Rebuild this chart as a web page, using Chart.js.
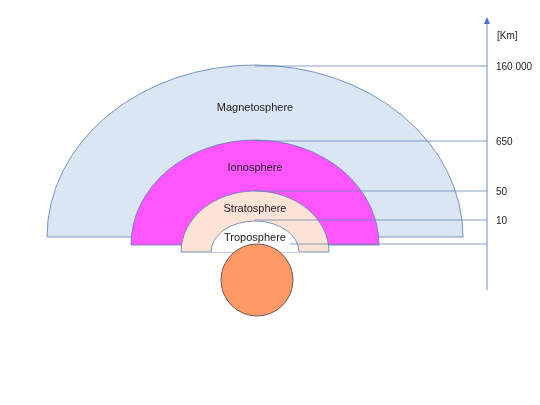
<!DOCTYPE html>
<html><head><meta charset="utf-8">
<script src="https://cdn.jsdelivr.net/npm/chart.js@4/dist/chart.umd.min.js"></script>
<style>html,body{margin:0;background:#fff}#wrap{width:540px;height:405px}</style>
</head><body><div id="wrap"><canvas id="c"></canvas></div>
<script>
// layers, outer to inner; centre x, baseline y, horizontal / vertical radii (diagram units = px)
const layerNames = ['Magnetosphere', 'Ionosphere', 'Stratosphere', 'Troposphere'];
const layerColors = ['#DAE6F4', '#FF55FF', '#FBE3D6', '#FFFFFF'];
const layerCx = [255, 255, 255, 255];
const layerBase = [237, 245, 252, 252];
const layerRx = [208, 124, 74, 44];
const layerRy = [172, 105, 61, 31];
const labelY = [108, 168, 209, 238];
const tickLabels = ['160 000', '650', '50', '10', ''];
const tickY = [66, 141, 191, 220, 244];
const tickFromX = [255, 255, 255, 255, 290];
const axisX = 487;

const shapes = {
  id: 'shapes',
  afterDatasetsDraw(chart) {
    const { ctx, scales: { x, y } } = chart;
    const X = v => x.getPixelForValue(v), Y = v => y.getPixelForValue(v);
    ctx.save();
    ctx.strokeStyle = '#5B7DB0';
    ctx.lineWidth = 0.8;
    // stratosphere annulus handled by drawing troposphere white on top
    for (let i = 0; i < layerNames.length; i++) {
      const cx = X(layerCx[i]), cy = Y(layerBase[i]);
      const rx = X(layerCx[i] + layerRx[i]) - cx, ry = Y(layerBase[i] - layerRy[i]);
      ctx.beginPath();
      ctx.ellipse(cx, cy, rx, cy - ry, 0, Math.PI, 2 * Math.PI);
      ctx.closePath();
      ctx.fillStyle = layerColors[i];
      ctx.fill();
      if (i === 3) {
        ctx.beginPath();
        ctx.ellipse(cx, cy, rx, cy - ry, 0, Math.PI, 2 * Math.PI);
      }
      ctx.stroke();
    }
    // earth
    ctx.beginPath();
    ctx.arc(X(257), Y(280), X(293) - X(257), 0, 2 * Math.PI);
    ctx.fillStyle = '#FF9966';
    ctx.fill();
    ctx.strokeStyle = '#404040';
    ctx.stroke();
    // labels
    ctx.fillStyle = '#222';
    ctx.font = '11px "Liberation Sans", Arial, sans-serif';
    ctx.textAlign = 'center';
    ctx.textBaseline = 'middle';
    layerNames.forEach((n, i) => ctx.fillText(n, X(layerCx[i]), Y(labelY[i])));
    // tick lines to axis
    ctx.strokeStyle = '#6A86B8';
    tickY.forEach((t, i) => {
      ctx.beginPath();
      ctx.moveTo(X(tickFromX[i]), Y(t));
      ctx.lineTo(X(axisX), Y(t));
      ctx.stroke();
    });
    // axis with arrow
    ctx.strokeStyle = '#4472C4';
    ctx.beginPath();
    ctx.moveTo(X(axisX), Y(290));
    ctx.lineTo(X(axisX), Y(22));
    ctx.stroke();
    ctx.fillStyle = '#4472C4';
    ctx.beginPath();
    ctx.moveTo(X(axisX), Y(17));
    ctx.lineTo(X(axisX - 3), Y(24));
    ctx.lineTo(X(axisX + 3), Y(24));
    ctx.fill();
    ctx.fillStyle = '#222';
    ctx.font = '10px "Liberation Sans", Arial, sans-serif';
    ctx.textAlign = 'left';
    ctx.fillText('[Km]', X(497), Y(36));
    tickLabels.forEach((t, i) => ctx.fillText(t, X(496), Y(tickY[i] + 1)));
    ctx.restore();
  }
};

new Chart(document.getElementById('c'), {
  type: 'scatter',
  data: { datasets: [{ data: [] }] },
  options: {
    responsive: true, maintainAspectRatio: false, animation: false,
    layout: { padding: 0 },
    scales: {
      x: { type: 'linear', min: 0, max: 540, display: false },
      y: { type: 'linear', min: 0, max: 405, reverse: true, display: false }
    },
    plugins: { legend: { display: false }, tooltip: { enabled: false } }
  },
  plugins: [shapes]
});
</script></body></html>
